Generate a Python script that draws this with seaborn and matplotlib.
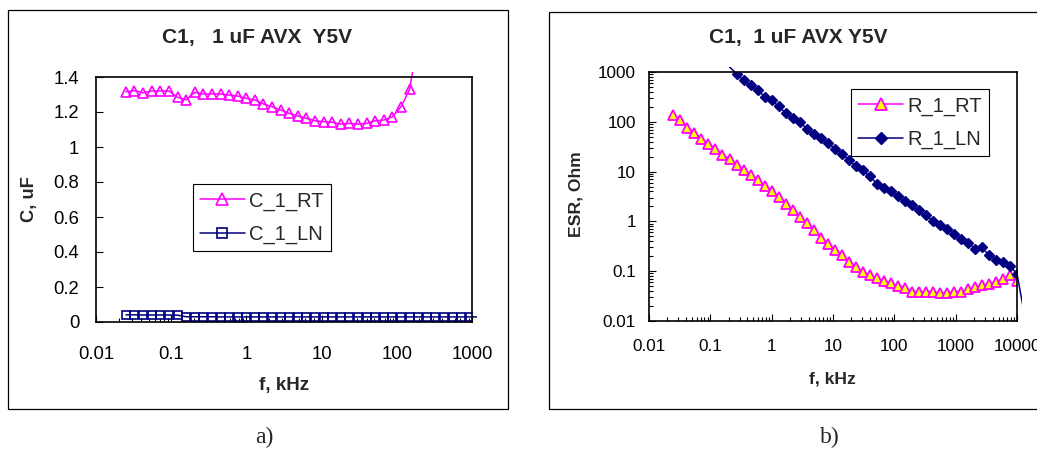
import numpy as np
import pandas as pd
import matplotlib
matplotlib.use("Agg")
import matplotlib.pyplot as plt
import seaborn as sns
from matplotlib.lines import Line2D
from matplotlib.patches import Rectangle
from matplotlib.ticker import FixedLocator, FixedFormatter, LogLocator, NullFormatter

# ---------------- data ----------------
freq_khz = [0.025, 0.0325, 0.0423, 0.0551, 0.0717, 0.0932, 0.1213, 0.1578, 0.2054, 0.2673,
            0.3478, 0.4525, 0.5888, 0.7661, 0.9966, 1.297, 1.687, 2.195, 2.856, 3.717,
            4.836, 6.292, 8.187, 10.65, 13.86, 18.04, 23.47, 30.53, 39.72, 51.69,
            67.25, 87.50, 113.9, 148.2, 192.8, 250.8, 326.4, 424.6, 552.5, 718.9,
            935.4, 1217, 1584, 2061, 2681, 3489, 4540, 5907, 7686, 10000, 13010]

# panel a) capacitance, uF
c_1_rt = [1.316, 1.322, 1.310, 1.320, 1.320, 1.320, 1.284, 1.269, 1.312, 1.303,
          1.303, 1.303, 1.297, 1.291, 1.278, 1.269, 1.246, 1.230, 1.211, 1.192,
          1.177, 1.164, 1.150, 1.145, 1.141, 1.131, 1.135, 1.131, 1.135, 1.150,
          1.154, 1.173, 1.230, 1.330, 1.620]
c_1_ln = [0.041, 0.041, 0.040, 0.040, 0.040, 0.040, 0.039, 0.030, 0.030, 0.030,
          0.030, 0.029, 0.029, 0.029, 0.029, 0.029, 0.029, 0.029, 0.029, 0.029,
          0.029, 0.029, 0.029, 0.029, 0.029, 0.029, 0.029, 0.029, 0.029, 0.029,
          0.029, 0.029, 0.029, 0.029, 0.029, 0.029, 0.029, 0.029, 0.029, 0.029,
          0.029, 0.029]

# panel b) ESR, Ohm
r_1_rt = [135, 107, 76, 59.6, 46, 36.5, 29, 21.2, 18.2, 13.4,
          10.6, 8.4, 6.7, 5.1, 4.07, 3.09, 2.28, 1.67, 1.23, 0.93,
          0.66, 0.47, 0.347, 0.27, 0.208, 0.153, 0.121, 0.096, 0.083, 0.074,
          0.063, 0.058, 0.050, 0.047, 0.039, 0.039, 0.039, 0.039, 0.0365, 0.0365,
          0.039, 0.039, 0.043, 0.048, 0.052, 0.056, 0.061, 0.071, 0.083, 0.064]
r_1_ln_start = 8   # R_1_LN values start at freq_khz[8]
r_1_ln = [1260, 929, 681, 541, 443, 315, 270, 205, 150, 121,
          99, 73, 56, 48, 37.5, 29, 23, 17.4, 12.8, 10.6,
          8.05, 5.74, 4.77, 4.08, 3.19, 2.57, 2.10, 1.67, 1.33, 1.02,
          0.835, 0.72, 0.57, 0.45, 0.37, 0.285, 0.30, 0.21, 0.171, 0.153,
          0.125, 0.0895, 0.015]

title_a = "C1,   1 uF AVX  Y5V"
title_b = "C1,  1 uF AVX Y5V"
ticks_a_y = [0, 0.2, 0.4, 0.6, 0.8, 1.0, 1.2, 1.4]
ticklabels_a_y = ["0", "0.2", "0.4", "0.6", "0.8", "1", "1.2", "1.4"]
ticks_a_x = [0.01, 0.1, 1, 10, 100, 1000]
ticklabels_a_x = ["0.01", "0.1", "1", "10", "100", "1000"]
ticks_b_y = [0.01, 0.1, 1, 10, 100, 1000]
ticklabels_b_y = ["0.01", "0.1", "1", "10", "100", "1000"]
ticks_b_x = [0.01, 0.1, 1, 10, 100, 1000, 10000]
ticklabels_b_x = ["0.01", "0.1", "1", "10", "100", "1000", "10000"]

MAGENTA = "#FF00FF"
NAVY = "#000080"
YELLOW = "#FFFF00"

# ---------------- figure ----------------
sns.set_theme(style="white")
plt.rcParams["font.family"] = ["Liberation Sans", "DejaVu Sans"]

W, H = 1037, 471
fig = plt.figure(figsize=(W / 100, H / 100), dpi=100)
fig.patch.set_facecolor("white")


def fx(px):
    return px / W


def fy(py):
    return 1 - py / H


axL = fig.add_axes([fx(96), fy(322), (472 - 96) / W, (322 - 77) / H])
axR = fig.add_axes([fx(649), fy(321), (1017 - 649) / W, (321 - 72) / H])

axL.set_xscale("log")
axR.set_xscale("log")
axR.set_yscale("log")
axL.set_xlim(0.01, 1000)
axL.set_ylim(0, 1.4)
axR.set_xlim(0.01, 10000)
axR.set_ylim(0.01, 1000)


def draw_series(ax, x, y, color, marker, ms, mfc, mec, mew):
    df = pd.DataFrame({"f": x, "v": y})
    sns.lineplot(data=df, x="f", y="v", ax=ax, color=color, lw=1.1,
                 estimator=None, sort=False, legend=False)
    ln = ax.lines[-1]
    ln.set_clip_box(ax.bbox.padded(5))
    x0, x1 = ax.get_xlim()
    y0, y1 = ax.get_ylim()
    m = (df.f >= x0) & (df.f <= x1) & (df.v >= y0) & (df.v <= y1)
    sns.lineplot(data=df[m], x="f", y="v", ax=ax, color=color, lw=0,
                 marker=marker, ms=ms, mfc=mfc, mec=mec, mew=mew,
                 estimator=None, sort=False, legend=False)


draw_series(axL, freq_khz[:len(c_1_rt)], c_1_rt, MAGENTA, "^", 7.0, "none", MAGENTA, 1.2)
draw_series(axL, freq_khz[:len(c_1_ln)], c_1_ln, NAVY, "s", 5.8, "none", NAVY, 1.2)
draw_series(axR, freq_khz[:len(r_1_rt)], r_1_rt, MAGENTA, "^", 7.5, YELLOW, MAGENTA, 1.3)
draw_series(axR, freq_khz[r_1_ln_start:r_1_ln_start + len(r_1_ln)], r_1_ln, NAVY, "D", 5.6, NAVY, NAVY, 1.0)

# ---------------- axes styling ----------------
for ax in (axL, axR):
    ax.set_facecolor("white")
    ax.grid(False)
    for s in ax.spines.values():
        s.set_visible(True)
        s.set_color("black")
        s.set_linewidth(1.2)
    ax.tick_params(which="both", direction="in", colors="black", width=0.8,
                   top=False, right=False, bottom=True, left=True)
    ax.tick_params(which="major", length=5)
    ax.tick_params(which="minor", length=3)

axL.yaxis.set_major_locator(FixedLocator(ticks_a_y))
axL.yaxis.set_major_formatter(FixedFormatter(ticklabels_a_y))
axL.xaxis.set_major_locator(FixedLocator(ticks_a_x))
axL.xaxis.set_major_formatter(FixedFormatter(ticklabels_a_x))
axL.xaxis.set_minor_locator(LogLocator(base=10, subs=np.arange(2, 10)))
axL.xaxis.set_minor_formatter(NullFormatter())
axL.tick_params(axis="x", which="major", labelsize=13.3, pad=17)
axL.tick_params(axis="y", which="major", labelsize=13.3, pad=12)

axR.yaxis.set_major_locator(FixedLocator(ticks_b_y))
axR.yaxis.set_major_formatter(FixedFormatter(ticklabels_b_y))
axR.yaxis.set_minor_locator(LogLocator(base=10, subs=np.arange(2, 10)))
axR.yaxis.set_minor_formatter(NullFormatter())
axR.xaxis.set_major_locator(FixedLocator(ticks_b_x))
axR.xaxis.set_major_formatter(FixedFormatter(ticklabels_b_x))
axR.xaxis.set_minor_locator(LogLocator(base=10, subs=np.arange(2, 10)))
axR.xaxis.set_minor_formatter(NullFormatter())
axR.tick_params(axis="x", which="major", labelsize=12.3, pad=13)
axR.tick_params(axis="y", which="major", labelsize=12.3, pad=9.4)

# axis labels
axL.set_xlabel("f, kHz", fontsize=13.5, fontweight="bold")
axL.set_ylabel("C, uF", fontsize=13.2, fontweight="bold")
axR.set_xlabel("f, kHz", fontsize=12.6, fontweight="bold")
axR.set_ylabel("ESR, Ohm", fontsize=12.6, fontweight="bold")
for ax in (axL, axR):
    ax.xaxis.label.set_va("center")
    ax.yaxis.label.set_va("center")
axL.xaxis.set_label_coords(0.5, -0.258)
axL.yaxis.set_label_coords(-0.177, 0.502)
axR.xaxis.set_label_coords(0.499, -0.232)
axR.yaxis.set_label_coords(-0.198, 0.509)

# legends
hL = [Line2D([], [], color=MAGENTA, lw=1.1, marker="^", ms=8, mfc="none", mec=MAGENTA, mew=1.2),
      Line2D([], [], color=NAVY, lw=1.1, marker="s", ms=6.5, mfc="none", mec=NAVY, mew=1.2)]
legL = axL.legend(hL, ["C_1_RT", "C_1_LN"], loc="upper left", bbox_to_anchor=(0.257, 0.562),
                  borderaxespad=0, frameon=True, fancybox=False, framealpha=1,
                  edgecolor="black", fontsize=14.5, handlelength=2.25, labelspacing=0.7,
                  handletextpad=0.2, borderpad=0.35)
legL.get_frame().set_linewidth(0.8)

hR = [Line2D([], [], color=MAGENTA, lw=1.1, marker="^", ms=8, mfc=YELLOW, mec=MAGENTA, mew=1.3),
      Line2D([], [], color=NAVY, lw=1.1, marker="D", ms=6, mfc=NAVY, mec=NAVY, mew=1.0)]
legR = axR.legend(hR, ["R_1_RT", "R_1_LN"], loc="upper left", bbox_to_anchor=(0.549, 0.930),
                  borderaxespad=0, frameon=True, fancybox=False, framealpha=1,
                  edgecolor="black", fontsize=14.5, handlelength=2.25, labelspacing=0.7,
                  handletextpad=0.2, borderpad=0.35)
legR.get_frame().set_linewidth(0.8)

# titles
fig.text(fx(257), fy(43.3), title_a, ha="center", va="baseline", fontsize=15, fontweight="bold")
fig.text(fx(798), fy(43.3), title_b, ha="center", va="baseline", fontsize=15, fontweight="bold")

# outer chart borders
fig.add_artist(Rectangle((fx(7.5), fy(409)), (508 - 7.5) / W, (409 - 10) / H,
                         transform=fig.transFigure, fill=False, ec="black", lw=0.9))
fig.add_artist(Rectangle((fx(549), fy(409)), (1045 - 549) / W, (409 - 12) / H,
                         transform=fig.transFigure, fill=False, ec="black", lw=0.9))

# captions
fig.text(fx(264), fy(437), "a)", ha="center", va="center", fontsize=17,
         family=["Liberation Serif", "DejaVu Serif"])
fig.text(fx(830), fy(437), "b)", ha="center", va="center", fontsize=17,
         family=["Liberation Serif", "DejaVu Serif"])

fig.savefig("out.png", dpi=100, facecolor="white")
